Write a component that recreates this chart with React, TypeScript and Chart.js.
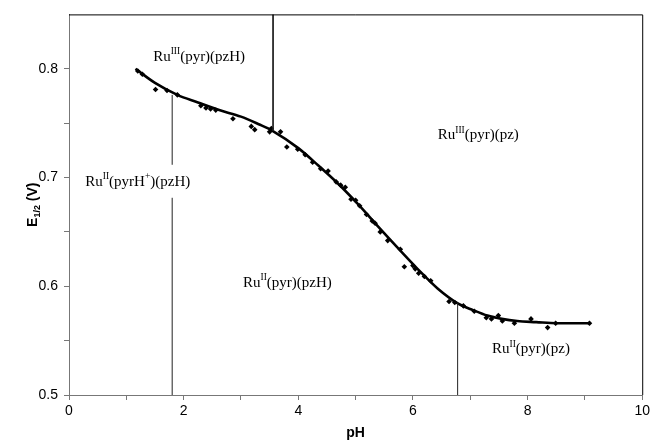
import React, { useEffect, useRef } from 'react';
import { Chart, registerables } from 'chart.js';

Chart.register(...registerables);

// Measured half-wave potentials
const phMeasured = [1.20, 1.28, 1.51, 1.71, 1.89, 2.30, 2.39, 2.47, 2.56, 2.86, 3.18, 3.24, 3.50, 3.53, 3.69, 3.80, 3.99, 4.12, 4.25, 4.39, 4.52, 4.66, 4.74, 4.82, 4.92, 5.00, 5.07, 5.19, 5.29, 5.34, 5.43, 5.56, 5.78, 5.85, 6.00, 6.04, 6.10, 6.20, 6.31, 6.63, 6.73, 6.88, 7.07, 7.28, 7.37, 7.49, 7.56, 7.77, 8.06, 8.35, 8.49, 9.08];
const e12Measured = [0.798, 0.795, 0.781, 0.780, 0.776, 0.766, 0.764, 0.763, 0.762, 0.754, 0.747, 0.744, 0.742, 0.745, 0.742, 0.728, 0.726, 0.721, 0.714, 0.708, 0.706, 0.696, 0.693, 0.691, 0.680, 0.679, 0.674, 0.666, 0.660, 0.658, 0.650, 0.642, 0.634, 0.618, 0.619, 0.616, 0.612, 0.609, 0.605, 0.586, 0.585, 0.582, 0.577, 0.571, 0.570, 0.573, 0.568, 0.566, 0.570, 0.562, 0.566, 0.566];

// Fitted curve
const phFit = [1.16, 1.5, 1.89, 2.25, 2.62, 3.0, 3.31, 3.55, 4.0, 4.35, 4.7, 5.05, 5.39, 5.74, 6.08, 6.43, 6.79, 7.05, 7.30, 7.55, 7.82, 8.15, 8.51, 9.08];
const e12Fit = [0.800, 0.787, 0.776, 0.769, 0.762, 0.756, 0.749, 0.743, 0.727, 0.711, 0.694, 0.675, 0.655, 0.635, 0.616, 0.598, 0.584, 0.578, 0.573, 0.570, 0.568, 0.567, 0.566, 0.566];

// Species boundaries
const boundaryPH = [1.8, 3.56, 6.78];
const boundaryFrom = [0.5, 0.85, 0.5];
const boundaryTo = [0.776, 0.743, 0.585];

// Region labels ("^{...}" = superscript)
const speciesLabels = ['Ru^{III}(pyr)(pzH)', 'Ru^{III}(pyr)(pz)', 'Ru^{II}(pyrH^{+})(pzH)', 'Ru^{II}(pyr)(pzH)', 'Ru^{II}(pyr)(pz)'];
const speciesPH = [2.27, 7.14, 1.20, 3.81, 8.06];
const speciesE = [0.812, 0.740, 0.697, 0.604, 0.543];

const xTickLabels = [0, 2, 4, 6, 8, 10];
const yTickLabels = [0.5, 0.6, 0.7, 0.8];
const xTitle = 'pH';
const yTitleMain = 'E';
const yTitleSub = '1/2';
const yTitleRest = ' (V)';

const SERIF = '"Liberation Serif", "Times New Roman", serif';
const SANS = '"Liberation Sans", Arial, sans-serif';

function parseLabel(s: string) {
  const segs: { t: string; sup: boolean }[] = [];
  const re = /\^\{([^}]*)\}/g;
  let last = 0;
  let m: RegExpExecArray | null;
  while ((m = re.exec(s))) {
    if (m.index > last) segs.push({ t: s.slice(last, m.index), sup: false });
    segs.push({ t: m[1], sup: true });
    last = m.index + m[0].length;
  }
  if (last < s.length) segs.push({ t: s.slice(last), sup: false });
  return segs;
}

const overlayPlugin = {
  id: 'overlay',
  afterDatasetsDraw(chart: any) {
    const { ctx, chartArea, scales } = chart;
    const xs = scales.x;
    const ys = scales.y;
    ctx.save();
    // frame (top and right)
    ctx.strokeStyle = '#000';
    ctx.lineWidth = 1;
    ctx.beginPath();
    ctx.moveTo(chartArea.left, chartArea.top + 0.5);
    ctx.lineTo(chartArea.right + 0.5, chartArea.top + 0.5);
    ctx.lineTo(chartArea.right + 0.5, chartArea.bottom);
    ctx.stroke();

    // species labels
    const mainFont = '15px ' + SERIF;
    const supFont = '9.5px ' + SERIF;
    speciesLabels.forEach((lab, i) => {
      const segs = parseLabel(lab);
      let w = 0;
      segs.forEach((sg) => {
        ctx.font = sg.sup ? supFont : mainFont;
        w += ctx.measureText(sg.t).width;
      });
      const cx = xs.getPixelForValue(speciesPH[i]);
      const cy = ys.getPixelForValue(speciesE[i]);
      const left = cx - w / 2;
      // mask boundary lines that cross the label
      let crosses = false;
      boundaryPH.forEach((b, j) => {
        const bx = xs.getPixelForValue(b);
        const y1 = ys.getPixelForValue(Math.max(boundaryFrom[j], boundaryTo[j]));
        const y2 = ys.getPixelForValue(Math.min(boundaryFrom[j], boundaryTo[j]));
        if (bx > left - 4 && bx < left + w + 4 && cy > y1 && cy < y2) crosses = true;
      });
      if (crosses) {
        ctx.fillStyle = '#fff';
        ctx.fillRect(left - 3, cy - 16, w + 6, 33);
      }
      let x = left;
      ctx.fillStyle = '#000';
      ctx.textBaseline = 'alphabetic';
      ctx.textAlign = 'left';
      segs.forEach((sg) => {
        ctx.font = sg.sup ? supFont : mainFont;
        ctx.fillText(sg.t, x, sg.sup ? cy + 5 - 6.5 : cy + 5);
        x += ctx.measureText(sg.t).width;
      });
    });

    // x title
    ctx.font = 'bold 14px ' + SANS;
    ctx.fillStyle = '#000';
    ctx.textAlign = 'center';
    ctx.textBaseline = 'middle';
    ctx.fillText(xTitle, (chartArea.left + chartArea.right) / 2, 433);

    // y title (rotated, subscript)
    ctx.translate(32, (chartArea.top + chartArea.bottom) / 2);
    ctx.rotate(-Math.PI / 2);
    const fMain = 'bold 14px ' + SANS;
    const fSub = 'bold 9px ' + SANS;
    ctx.font = fMain;
    const w1 = ctx.measureText(yTitleMain).width;
    const w3 = ctx.measureText(yTitleRest).width;
    ctx.font = fSub;
    const w2 = ctx.measureText(yTitleSub).width;
    let x0 = -(w1 + w2 + w3) / 2;
    ctx.textAlign = 'left';
    ctx.textBaseline = 'alphabetic';
    ctx.font = fMain;
    ctx.fillText(yTitleMain, x0, 5);
    x0 += w1;
    ctx.font = fSub;
    ctx.fillText(yTitleSub, x0, 8);
    x0 += w2;
    ctx.font = fMain;
    ctx.fillText(yTitleRest, x0, 5);
    ctx.restore();
  },
};

export default function App() {
  const ref = useRef<HTMLCanvasElement | null>(null);
  useEffect(() => {
    document.body.style.margin = '0';
    const canvas = ref.current;
    if (!canvas) return;
    const measured = phMeasured.map((x, i) => ({ x, y: e12Measured[i] }));
    const fit = phFit.map((x, i) => ({ x, y: e12Fit[i] }));
    const boundaries = boundaryPH.map((b, i) => ({
      data: [{ x: b, y: boundaryFrom[i] }, { x: b, y: boundaryTo[i] }],
      showLine: true,
      borderColor: '#222',
      borderWidth: 1,
      pointRadius: 0,
      tension: 0,
    }));
    const chart = new Chart(canvas, {
      type: 'scatter',
      data: {
        datasets: [
          ...boundaries,
          {
            data: fit,
            showLine: true,
            borderColor: '#000',
            borderWidth: 2.6,
            pointRadius: 0,
            tension: 0.4,
            cubicInterpolationMode: 'monotone',
          },
          {
            data: measured,
            showLine: false,
            pointStyle: 'rectRot',
            pointRadius: 2.8,
            backgroundColor: '#000',
            borderColor: '#000',
            borderWidth: 0,
          },
        ] as any,
      },
      options: {
        responsive: false,
        animation: false,
        events: [],
        layout: { padding: { top: 12, right: 7, left: 0, bottom: 0 } },
        plugins: { legend: { display: false }, tooltip: { enabled: false }, title: { display: false } },
        scales: {
          x: {
            type: 'linear',
            min: 0,
            max: 10,
            afterFit: (s: any) => { s.height = 50; },
            ticks: {
              stepSize: 1,
              autoSkip: false,
              maxRotation: 0,
              padding: 3,
              color: '#000',
              font: { family: SANS, size: 14 },
              callback: (v: any) => (xTickLabels.includes(Math.round(v * 1000) / 1000) ? String(v) : ''),
            },
            grid: { drawOnChartArea: false, drawTicks: true, tickLength: 5, color: '#777' },
            border: { color: '#777', width: 1 },
          },
          y: {
            type: 'linear',
            min: 0.5,
            max: 0.85,
            afterFit: (s: any) => { s.width = 69; },
            ticks: {
              stepSize: 0.05,
              autoSkip: false,
              padding: 6,
              color: '#000',
              font: { family: SANS, size: 14 },
              callback: (v: any) => {
                const r = Math.round(v * 1000) / 1000;
                return yTickLabels.includes(r) ? r.toFixed(1) : '';
              },
            },
            grid: {
              drawOnChartArea: false,
              drawTicks: true,
              tickLength: 5,
              color: (c: any) => (c.tick && c.tick.value > 0.849 ? 'rgba(0,0,0,0)' : '#777'),
            },
            border: { color: '#777', width: 1 },
          },
        },
      },
      plugins: [overlayPlugin],
    });
    return () => chart.destroy();
  }, []);
  return (
    <div style={{ width: 653, height: 445 }}>
      <canvas ref={ref} width={653} height={445} style={{ display: 'block' }} />
    </div>
  );
}
